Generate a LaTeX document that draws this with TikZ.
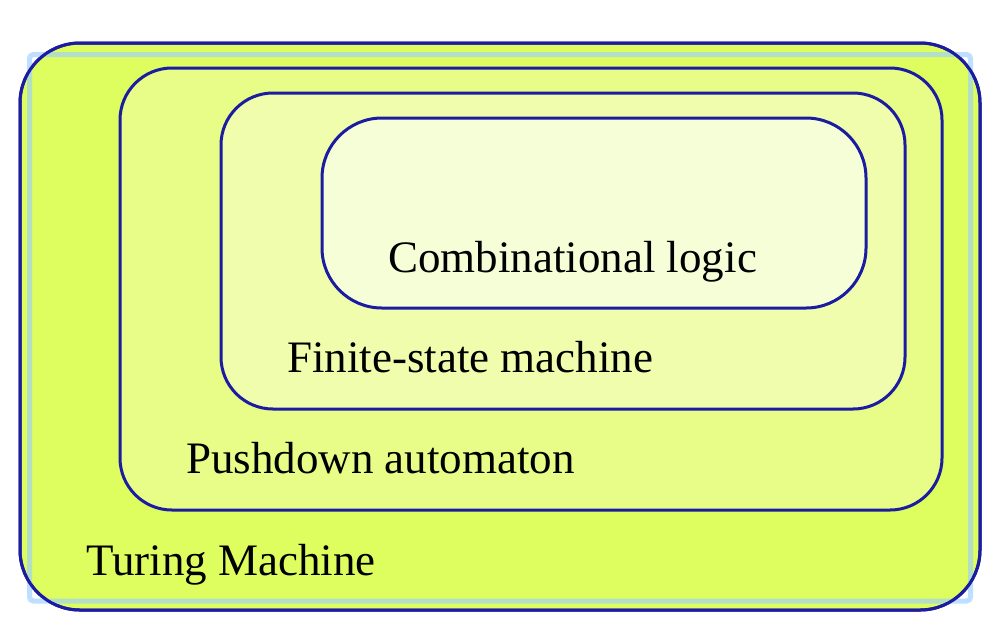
\documentclass[tikz,border=0pt]{standalone}
\usepackage{fontspec}
\setmainfont{Liberation Serif}
\definecolor{edge}{HTML}{1C1CA0}
\definecolor{fillA}{HTML}{DEFD5F}
\definecolor{fillB}{HTML}{E8FD88}
\definecolor{fillC}{HTML}{EFFDAC}
\definecolor{fillD}{HTML}{F5FED6}
\definecolor{selblue}{HTML}{9CCFFF}
\begin{document}
\begin{tikzpicture}[x=1pt,y=-1pt,
  level/.style={draw=edge,line width=3pt},
  lbl/.style={anchor=base west,inner sep=0pt,font=\fontsize{45}{54}\selectfont}]
\useasboundingbox (0,0) rectangle (1000,630);
\fill[white] (0,0) rectangle (1000,630);
\path[level,fill=fillA,rounded corners=60pt] (20,43) rectangle (980,610);
\draw[selblue,opacity=0.65,line width=5pt,rounded corners=4pt] (29.5,54.5) rectangle (970.5,601);
\draw[edge,line width=3pt,rounded corners=60pt] (20,43) rectangle (980,610);
\path[level,fill=fillB,rounded corners=52pt] (120,68) rectangle (942,510);
\path[level,fill=fillC,rounded corners=52pt] (221,93) rectangle (905,409);
\path[level,fill=fillD,rounded corners=60pt] (322,118) rectangle (866,308);
\node[lbl] (tm) at (86,575) {Turing Machine};
\node[lbl] (pda) at (186,473) {Pushdown automaton};
\node[lbl] (fsm) at (287,372) {Finite-state machine};
\node[lbl] (cl) at (388,272) {Combinational logic};
\end{tikzpicture}
\end{document}
